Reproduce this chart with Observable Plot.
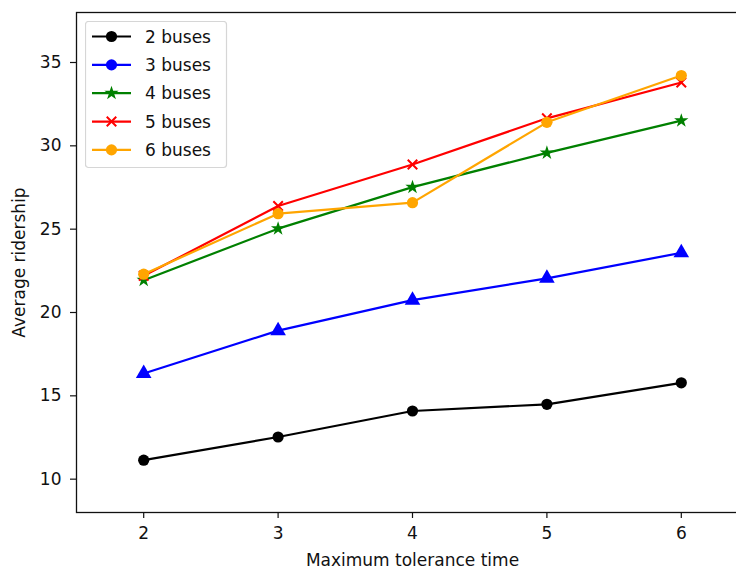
<!DOCTYPE html>
<html><head><meta charset="utf-8">
<script src="https://cdn.jsdelivr.net/npm/d3@7"></script>
<script src="https://cdn.jsdelivr.net/npm/@observablehq/plot@0.6"></script>
<style>
body{margin:0;background:#fff;overflow:hidden;}
#wrap{position:relative;width:736px;height:571px;overflow:hidden;font-family:"DejaVu Sans",sans-serif;}
#wrap svg{max-width:none !important;}
#legend{position:absolute;left:85px;top:21px;}
</style>
</head><body><div id="wrap"></div>
<script>
// ---- data ----
const toleranceTimes = [2, 3, 4, 5, 6];
const seriesNames = ["2 buses", "3 buses", "4 buses", "5 buses", "6 buses"];
const bus2 = [11.14, 12.53, 14.09, 14.49, 15.78];
const bus3 = [16.34, 18.91, 20.74, 22.05, 23.58];
const bus4 = [21.94, 25.03, 27.52, 29.58, 31.51];
const bus5 = [22.2, 26.39, 28.88, 31.65, 33.8];
const bus6 = [22.3, 25.93, 26.59, 31.41, 34.22];
const xTicks = [2, 3, 4, 5, 6];
const yTicks = [10, 15, 20, 25, 30, 35];

// ---- styles ----
const colors = ["#000000", "#0000ff", "#008000", "#ff0000", "#ffa500"];
const symbols = ["circle", "triangle", "star", "times", "circle"];
const legendSymbols = ["circle", "circle", "star", "times", "circle"];
const symbolR = {circle: 5.6, triangle: 5.8, star: 4.5, times: 4.4};
const values = [bus2, bus3, bus4, bus5, bus6];

const series = seriesNames.map((name, k) => ({
  name, color: colors[k], symbol: symbols[k],
  rows: toleranceTimes.map((x, i) => ({x, y: values[k][i], name}))
}));

const marks = [];
for (const s of series) {
  marks.push(Plot.line(s.rows, {x: "x", y: "y", stroke: s.color, strokeWidth: 2.2}));
  if (s.symbol === "times") {
    marks.push(Plot.dot(s.rows, {x: "x", y: "y", symbol: "times", stroke: s.color, fill: "none", strokeWidth: 2, r: symbolR.times}));
  } else {
    marks.push(Plot.dot(s.rows, {x: "x", y: "y", symbol: s.symbol, fill: s.color, stroke: "none", r: symbolR[s.symbol]}));
  }
}

const chart = Plot.plot({
  width: 748, height: 571,
  marginLeft: 76, marginRight: 0, marginTop: 12, marginBottom: 59,
  style: {fontFamily: "DejaVu Sans, sans-serif", fontSize: "17px", color: "#111", background: "#fff", maxWidth: "none"},
  x: {domain: [1.5, 6.5]},
  y: {domain: [8, 38]},
  marks: [
    Plot.axisX({ticks: xTicks, tickSize: 6, tickPadding: 8, fontSize: 17, tickFormat: d3.format("d"), strokeWidth: 1.2,
      label: "Maximum tolerance time", labelAnchor: "center", labelArrow: "none", labelOffset: 53}),
    Plot.axisY({ticks: yTicks, tickSize: 6, tickPadding: 9, fontSize: 17, tickFormat: d3.format("d"), strokeWidth: 1.2,
      label: "Average ridership", labelAnchor: "center", labelArrow: "none", labelOffset: 64}),
    Plot.frame({stroke: "#111", strokeWidth: 1.3}),
    ...marks
  ]
});
const wrap = document.getElementById("wrap");
wrap.appendChild(chart);

// ---- legend ----
const leg = d3.select(wrap).append("svg").attr("id", "legend").attr("width", 146).attr("height", 152);
leg.append("rect").attr("x", 0.5).attr("y", 0.5).attr("width", 141).attr("height", 146)
  .attr("rx", 3).attr("fill", "#fff").attr("fill-opacity", 0.8).attr("stroke", "#d6d6d6").attr("stroke-width", 1.2);
const symMap = {circle: d3.symbolCircle, triangle: d3.symbolTriangle, star: d3.symbolStar, times: d3.symbolTimes};
seriesNames.forEach((name, k) => {
  const cy = 15.5 + k * 28.35;
  const g = leg.append("g");
  g.append("line").attr("x1", 7).attr("x2", 46).attr("y1", cy).attr("y2", cy)
    .attr("stroke", colors[k]).attr("stroke-width", 2.2);
  const sym = legendSymbols[k];
  const r = symbolR[sym];
  const path = d3.symbol(symMap[sym], Math.PI * r * r)();
  const p = g.append("path").attr("d", path).attr("transform", `translate(26.5,${cy})`);
  if (sym === "times") p.attr("fill", "none").attr("stroke", colors[k]).attr("stroke-width", 2);
  else p.attr("fill", colors[k]);
  g.append("text").attr("x", 60).attr("y", cy).attr("dy", "0.36em")
    .attr("font-family", "DejaVu Sans, sans-serif").attr("font-size", 17).attr("fill", "#111").text(name);
});
</script>
</body></html>
